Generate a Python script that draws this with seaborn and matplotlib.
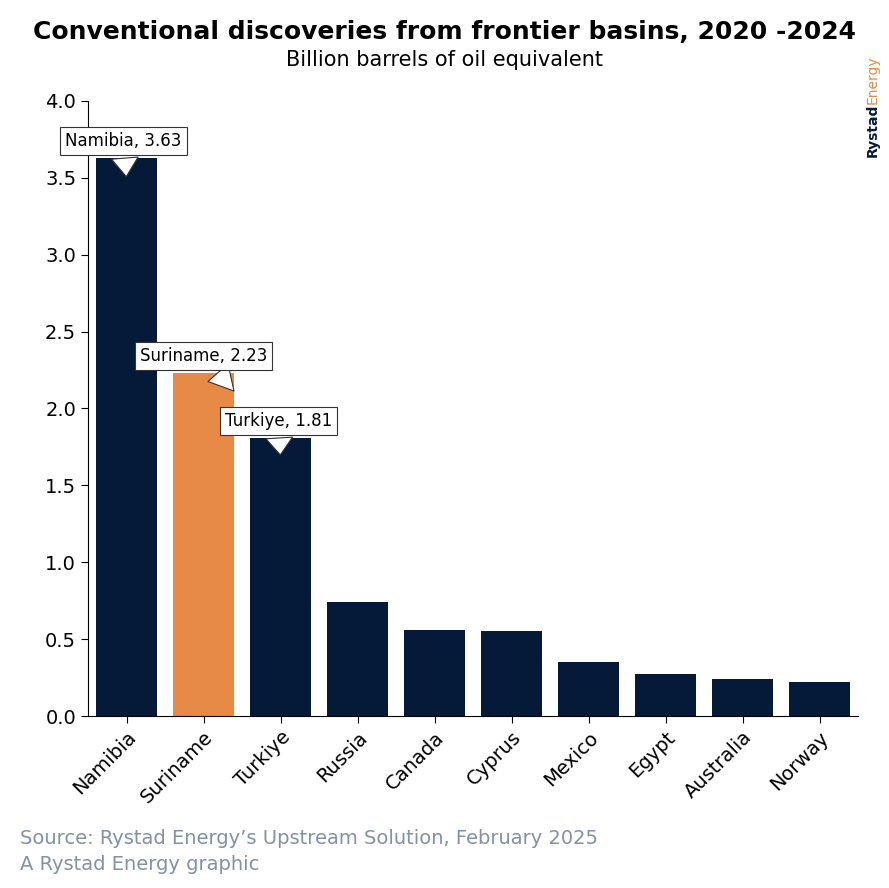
import matplotlib
matplotlib.use("Agg")
import matplotlib.pyplot as plt
import seaborn as sns
import pandas as pd

countries = ["Namibia","Suriname","Turkiye","Russia","Canada","Cyprus","Mexico","Egypt","Australia","Norway"]
values = [3.63,2.23,1.81,0.74,0.56,0.55,0.35,0.27,0.24,0.22]
navy = "#051a38"; orange = "#e68a45"
colors = [orange if c == "Suriname" else navy for c in countries]

df = pd.DataFrame({"country": countries, "value": values})
fig = plt.figure(figsize=(8.89, 8.88), dpi=100)
ax = fig.add_axes([88/889, 1-716/888, 770/889, 615/888])
sns.barplot(data=df, x="country", y="value", hue="country", palette=colors, legend=False, ax=ax, width=0.8, saturation=1)
ax.set_xlim(-0.5, 9.5); ax.set_ylim(0, 4)
ax.set_yticks([0,0.5,1,1.5,2,2.5,3,3.5,4])
ax.set_yticklabels([f"{v:.1f}" for v in ax.get_yticks()], fontsize=14)
ax.set_xticks(range(10)); ax.set_xticklabels(countries, rotation=45, ha="right", rotation_mode="anchor", fontsize=14)
ax.set_xlabel(""); ax.set_ylabel("")
for s in ["top","right"]: ax.spines[s].set_visible(False)
ax.tick_params(length=5, color="black")

def callout(text, bx, by, tx, ty):
    ax.annotate(text, xy=(tx, ty), xytext=(bx, by), ha="center", va="center", fontsize=12,
                bbox=dict(boxstyle="square,pad=0.3", fc="white", ec="#333333", lw=0.8),
                arrowprops=dict(arrowstyle="wedge,tail_width=1.6,shrink_factor=0.5", fc="white", ec="#333333", lw=0.8))
callout(f"{countries[0]}, {values[0]}", -0.04, 3.74, 0.0, 3.49)
callout(f"{countries[1]}, {values[1]}", 1.0, 2.34, 1.42, 2.10)
callout(f"{countries[2]}, {values[2]}", 1.97, 1.92, 2.0, 1.68)

fig.text(0.5, 1-32/888, "Conventional discoveries from frontier basins, 2020 -2024", ha="center", va="center", fontsize=18, fontweight="bold")
fig.text(0.5, 1-60/888, "Billion barrels of oil equivalent", ha="center", va="center", fontsize=15)
fig.text(20/889, 1-838/888, "Source: Rystad Energy\u2019s Upstream Solution, February 2025", fontsize=14, color="#8391a3", va="center")
fig.text(20/889, 1-864/888, "A Rystad Energy graphic", fontsize=14, color="#8391a3", va="center")
fig.text(873/889, 1-157/888, "Rystad", rotation=90, fontsize=10, fontweight="bold", color=navy, ha="center", va="bottom")
fig.text(873/889, 1-104/888, "Energy", rotation=90, fontsize=10, color=orange, ha="center", va="bottom")
fig.savefig("out.png", dpi=100)
